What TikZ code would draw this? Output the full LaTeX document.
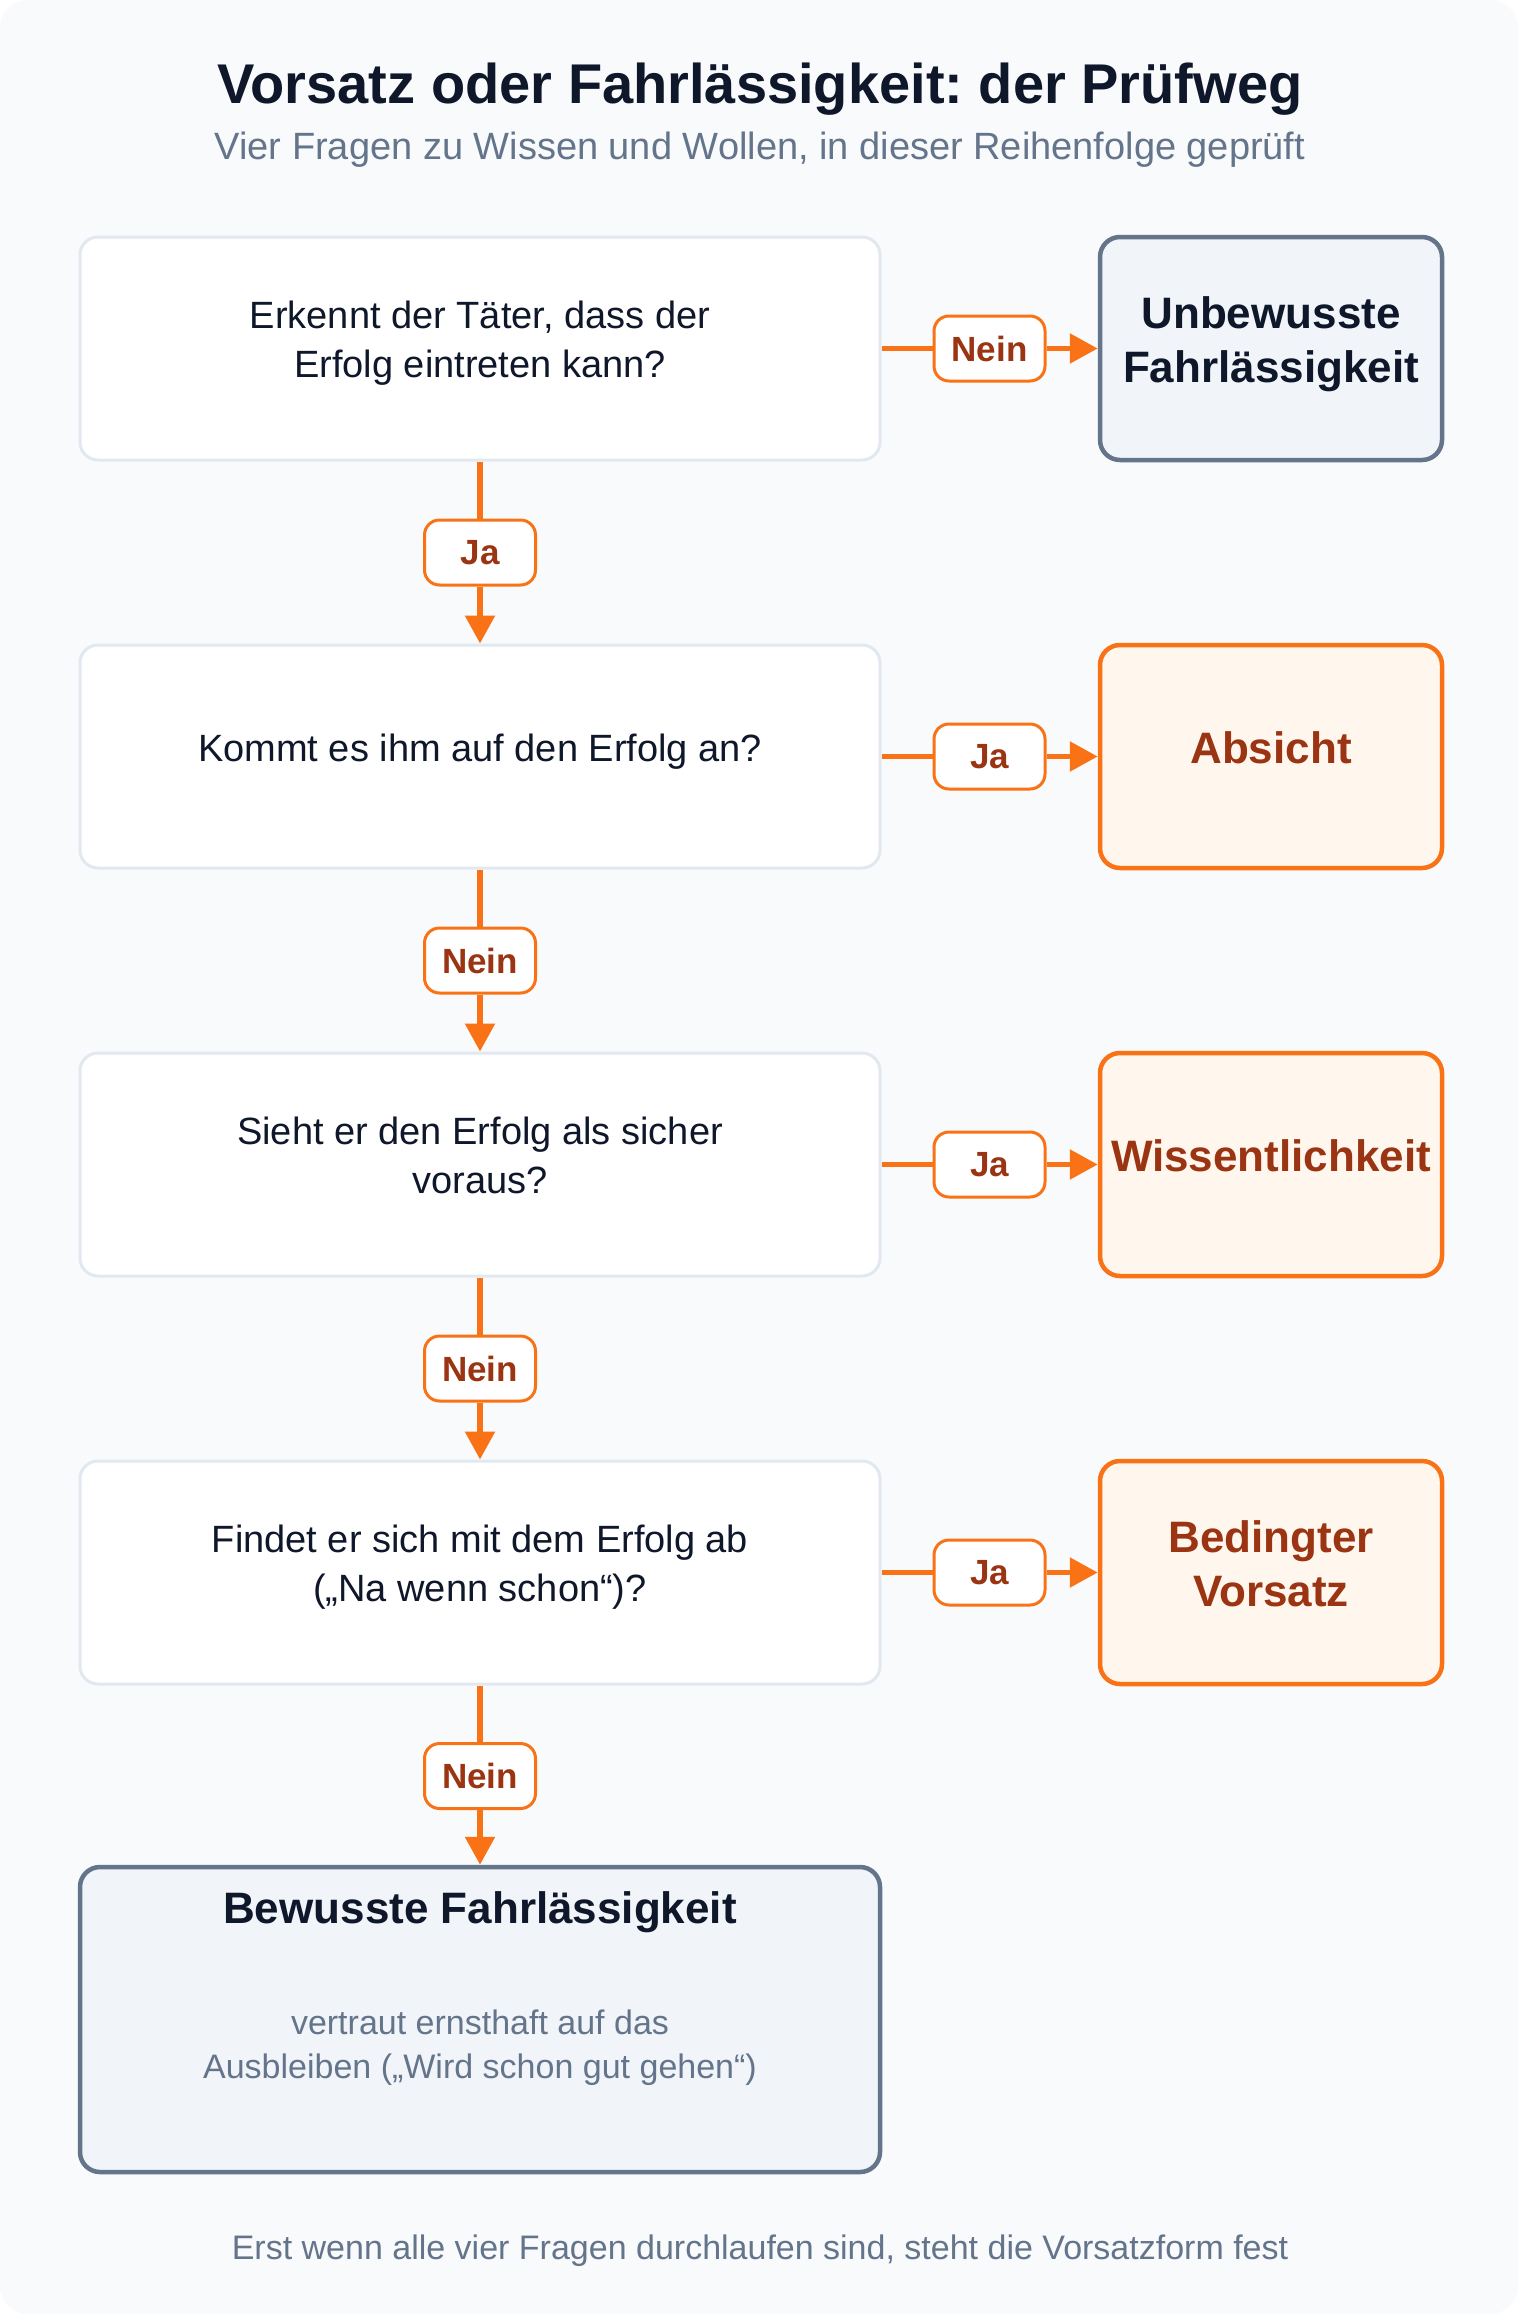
\documentclass[tikz,border=0pt]{standalone}
\usepackage{fontspec}
\setmainfont{Liberation Sans}
\usetikzlibrary{arrows.meta}
\frenchspacing

\definecolor{ink}{HTML}{0F172A}
\definecolor{slate}{HTML}{64748B}
\definecolor{edge}{HTML}{E2E8F0}
\definecolor{paper}{HTML}{F8FAFC}
\definecolor{grayfill}{HTML}{F1F5F9}
\definecolor{accent}{HTML}{F97316}
\definecolor{accentfill}{HTML}{FFF7ED}
\definecolor{rust}{HTML}{9A3412}

\begin{document}
\begin{tikzpicture}[x=0.5pt, y=-0.5pt,
  frage/.style={draw=edge, line width=1.5pt, fill=white, rounded corners=9pt,
    minimum width=400pt, minimum height=111.5pt, align=center, text=ink,
    text height=10.5pt, text depth=6pt, font=\fontsize{19}{24.5}\selectfont},
  frage2/.style={frage, text height=35pt},
  ergebnis/.style={draw=accent, line width=2.25pt, fill=accentfill, rounded corners=10pt,
    minimum width=171pt, minimum height=111.5pt, inner sep=2pt, align=center, text=rust,
    text height=11pt, text depth=4pt, font=\bfseries\fontsize{22}{27}\selectfont},
  ergebnis2/.style={ergebnis, text height=38pt},
  grau/.style={draw=slate, fill=grayfill, text=ink},
  antwort/.style={draw=accent, line width=1.5pt, fill=white, rounded corners=7.5pt,
    minimum width=55.5pt, minimum height=32.5pt, inner sep=0pt, text=rust,
    font=\bfseries\fontsize{17.5}{20}\selectfont},
  linie/.style={draw=accent, line width=2.75pt},
  pfeil/.style={linie, -{Triangle[length=14pt,width=14.5pt]}}]

% background
\fill[white] (0,0) rectangle (1520,2318);
\fill[paper, rounded corners=14pt] (0,0) rectangle (1518,2314);

\node[anchor=base, font=\bfseries\fontsize{28}{32}\selectfont, text=ink] (titel) at (760,103) {Vorsatz oder Fahrlässigkeit: der Prüfweg};
\node[anchor=base, font=\fontsize{19}{22}\selectfont, text=slate] (untertitel) at (760,159) {Vier Fragen zu Wissen und Wollen, in dieser Reihenfolge geprüft};

% questions
\node[frage2] (f1) at (480,348.5) {Erkennt der Täter, dass der\\Erfolg eintreten kann?};
\node[frage] (f2) at (480,756.5) {Kommt es ihm auf den Erfolg an?};
\node[frage2] (f3) at (480,1164.5) {Sieht er den Erfolg als sicher\\voraus?};
\node[frage2] (f4) at (480,1572.5) {Findet er sich mit dem Erfolg ab\\(„Na wenn schon“)?};

% results
\node[ergebnis2, grau] (e1) at (1271,348.5) {Unbewusste\\Fahrlässigkeit};
\node[ergebnis] (e2) at (1271,756.5) {Absicht};
\node[ergebnis] (e3) at (1271,1164.5) {Wissentlichkeit};
\node[ergebnis2] (e4) at (1271,1572.5) {Bedingter\\Vorsatz};

\node[frage, grau, line width=2.25pt, rounded corners=10pt, minimum height=152.5pt] (schluss) at (480,2019.5) {};
\node[anchor=base, font=\bfseries\fontsize{22}{27}\selectfont, text=ink] (schlusstitel) at (480,1923) {Bewusste Fahrlässigkeit};
\node[align=center, font=\fontsize{17}{22}\selectfont, text=slate] (schlusstext) at (480,2048) {vertraut ernsthaft auf das\\Ausbleiben („Wird schon gut gehen“)};

% answers
\node[antwort] (a1) at (989.5,348.5) {Nein};
\node[antwort] (b1) at (480,552.5) {Ja};
\node[antwort] (a2) at (989.5,756.5) {Ja};
\node[antwort] (b2) at (480,960.5) {Nein};
\node[antwort] (a3) at (989.5,1164.5) {Ja};
\node[antwort] (b3) at (480,1368.5) {Nein};
\node[antwort] (a4) at (989.5,1572.5) {Ja};
\node[antwort] (b4) at (480,1776) {Nein};

\draw[linie] (f1) -- (a1);
\draw[pfeil] (a1) -- (e1);
\draw[linie] (f1) -- (b1);
\draw[pfeil] (b1) -- (f2);

\draw[linie] (f2) -- (a2);
\draw[pfeil] (a2) -- (e2);
\draw[linie] (f2) -- (b2);
\draw[pfeil] (b2) -- (f3);

\draw[linie] (f3) -- (a3);
\draw[pfeil] (a3) -- (e3);
\draw[linie] (f3) -- (b3);
\draw[pfeil] (b3) -- (f4);

\draw[linie] (f4) -- (a4);
\draw[pfeil] (a4) -- (e4);
\draw[linie] (f4) -- (b4);
\draw[pfeil] (b4) -- (schluss);

\node[anchor=base, font=\fontsize{17}{20}\selectfont, text=slate] (fusszeile) at (760,2259) {Erst wenn alle vier Fragen durchlaufen sind, steht die Vorsatzform fest};
\end{tikzpicture}
\end{document}
